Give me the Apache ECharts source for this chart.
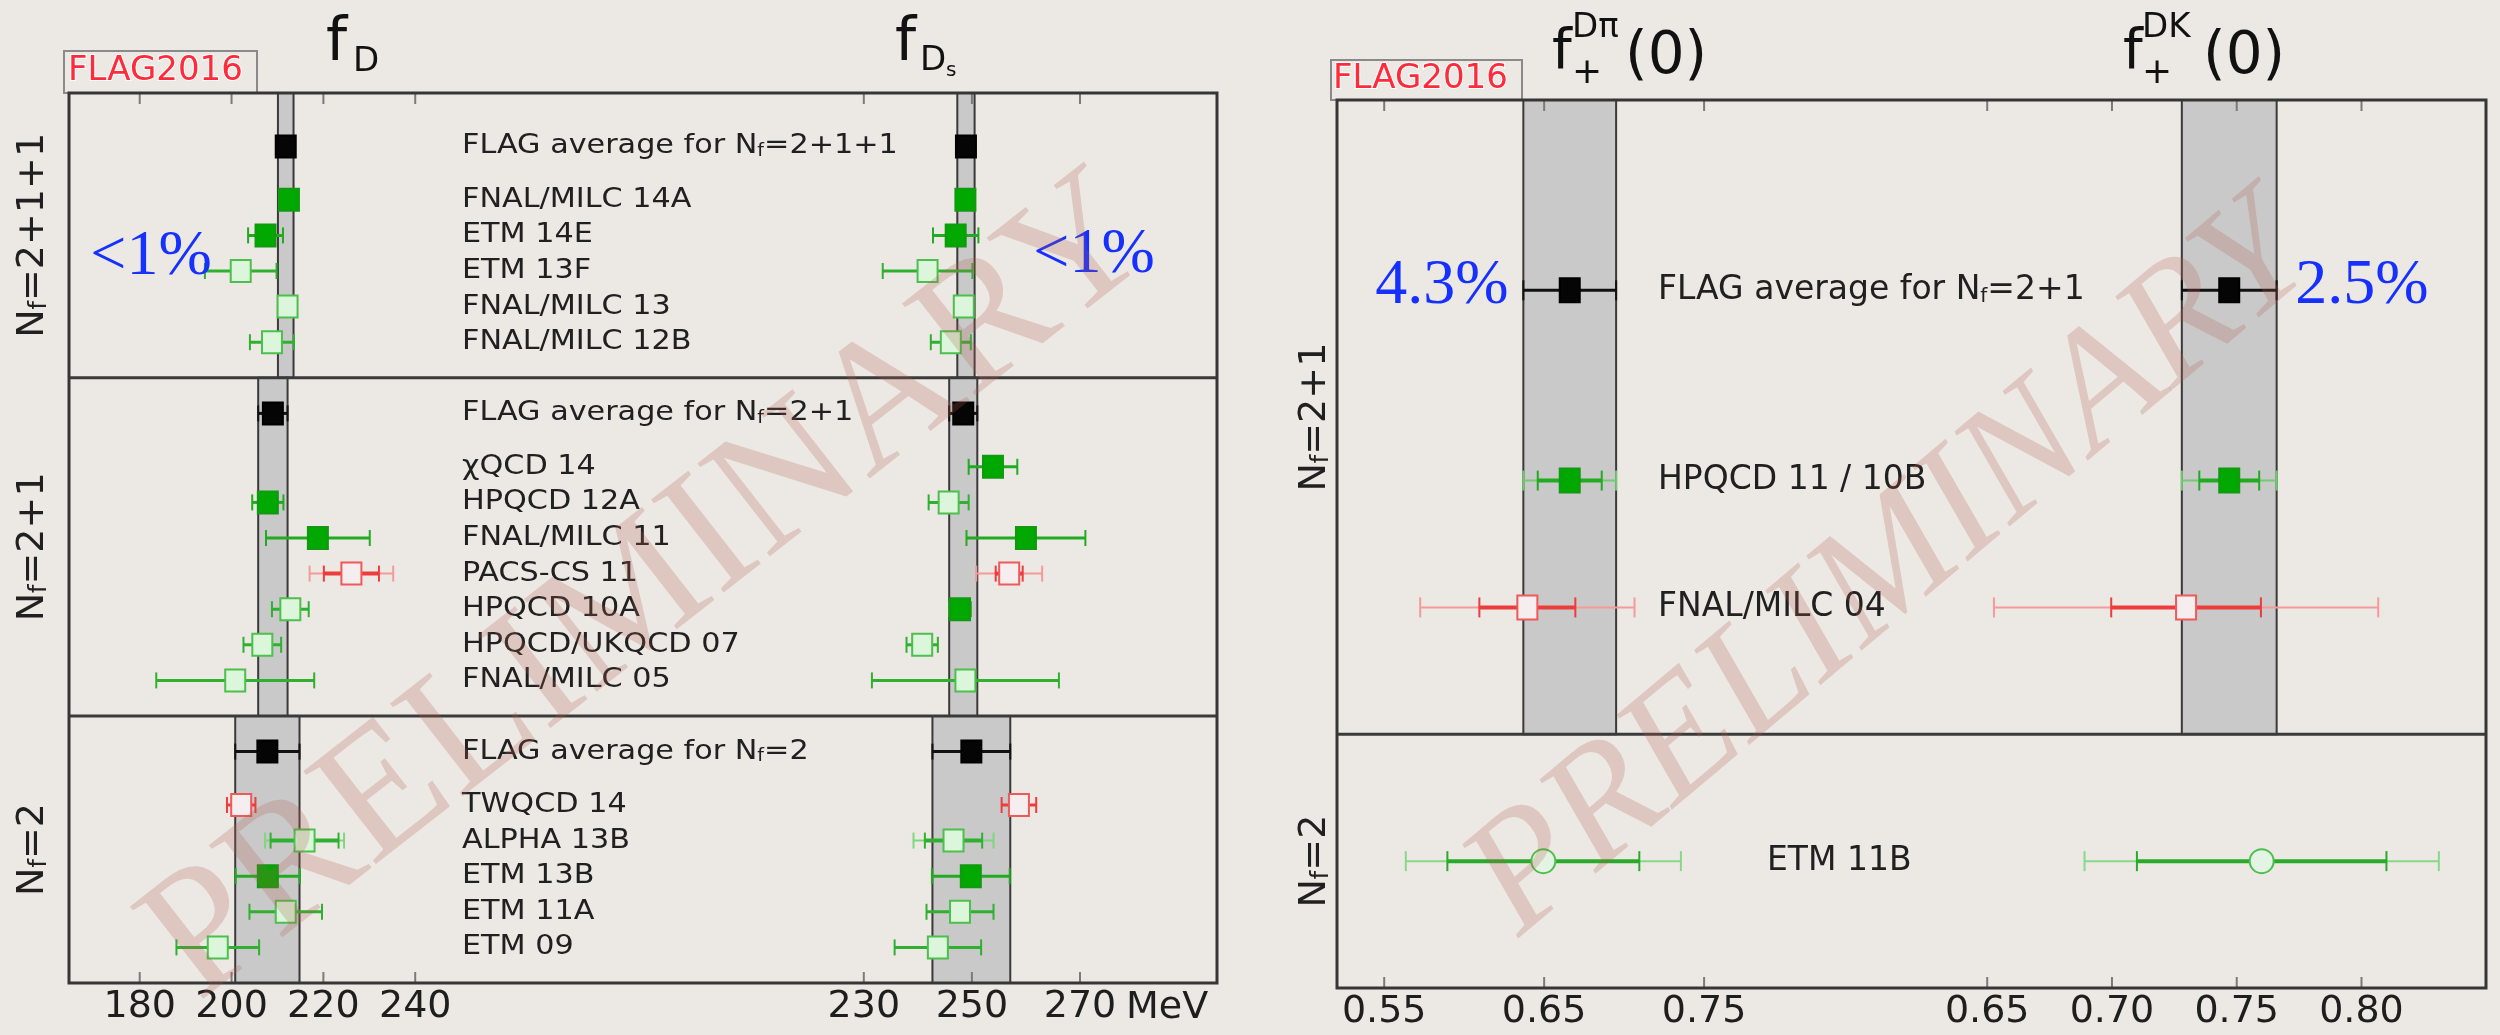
<!DOCTYPE html>
<html>
<head>
<meta charset="utf-8">
<script src="https://cdn.jsdelivr.net/npm/echarts@6/dist/echarts.min.js"></script>
<style>
html, body { margin: 0; padding: 0; background: #ece9e4; }
#chart { width: 2500px; height: 1035px; }
</style>
</head>
<body>
<div id="chart"></div>
<script>
// ---------- data: decay constants (left panel) ----------
var leftSections = ['N_f=2+1+1', 'N_f=2+1', 'N_f=2'];
var leftAvgLabels = ['FLAG average for N_f=2+1+1', 'FLAG average for N_f=2+1', 'FLAG average for N_f=2'];
var leftLabels = [
  ['FNAL/MILC 14A', 'ETM 14E', 'ETM 13F', 'FNAL/MILC 13', 'FNAL/MILC 12B'],
  ['χQCD 14', 'HPQCD 12A', 'FNAL/MILC 11', 'PACS-CS 11', 'HPQCD 10A', 'HPQCD/UKQCD 07', 'FNAL/MILC 05'],
  ['TWQCD 14', 'ALPHA 13B', 'ETM 13B', 'ETM 11A', 'ETM 09']
];
// FLAG averages [value, error]
var fdAvg = [[211.8, 1.7], [209.0, 3.2], [207.8, 7.0]];
var fdsAvg = [[248.9, 1.6], [248.4, 2.6], [249.9, 7.2]];
// results [value, total error, stat error]; null = no result
var fdValues = [
  [[212.5, 1.2], [207.4, 3.8], [202.0, 7.8], [212.2, 1.0], [208.8, 4.8]],
  [null, [207.9, 3.4], [218.8, 11.3], [226.1, 9.1, 6.0], [212.8, 4.0], [206.7, 4.1], [200.8, 17.2]],
  [[202.1, 3.1], [215.9, 8.6, 7.4], [207.9, 7.0], [211.8, 7.9], [197.0, 9.0]]
];
var fdStatus = [
  ['ok', 'ok', 'other', 'other', 'other'],
  [null, 'ok', 'ok', 'fail', 'other', 'other', 'other'],
  ['fail', 'other', 'ok', 'other', 'other']
];
var fdsValues = [
  [[248.8, 1.2], [247.0, 4.2], [241.8, 8.3], [248.5, 1.0], [246.1, 3.7]],
  [[253.9, 4.5], [245.7, 3.7], [260.0, 11.0], [256.9, 6.1, 2.5], [247.8, 2.0], [240.8, 2.9], [248.8, 17.3]],
  [[258.7, 3.2], [246.6, 7.4, 5.3], [249.8, 7.2], [247.8, 6.2], [243.7, 8.0]]
];
var fdsStatus = [
  ['ok', 'ok', 'other', 'other', 'other'],
  ['ok', 'other', 'ok', 'fail', 'ok', 'other', 'other'],
  ['fail', 'other', 'ok', 'other', 'other']
];

// ---------- data: form factors (right panel) ----------
var rightSections = ['N_f=2+1', 'N_f=2'];
var rightAvgLabels = ['FLAG average for N_f=2+1', null];
var rightLabels = [['HPQCD 11 / 10B', 'FNAL/MILC 04'], ['ETM 11B']];
var dpiAvg = [[0.666, 0.029], null];
var dkAvg = [[0.747, 0.019], null];
var dpiValues = [[[0.666, 0.029, 0.020], [0.6395, 0.067, 0.030]], [[0.6495, 0.086, 0.060]]];
var dkValues = [[[0.747, 0.019, 0.012], [0.7297, 0.077, 0.030]], [[0.760, 0.071, 0.050]]];
var dpiStatus = [['ok', 'fail'], ['proc']];
var dkStatus = [['ok', 'fail'], ['proc']];

// tick labels
var fdTicks = [180, 200, 220, 240];
var fdsTicks = [230, 250, 270];
var dpiTicks = [0.55, 0.65, 0.75];
var dkTicks = [0.65, 0.70, 0.75, 0.80];

// ---------- layout ----------
var FONT = 'DejaVu Sans';
var grids = [
  { left: 69, top: 93, width: 571, height: 890 },
  { left: 640, top: 93, width: 577, height: 890 },
  { left: 1337, top: 100, width: 575, height: 888 },
  { left: 1912, top: 100, width: 574, height: 888 }
];
var ranges = [[164.60, 288.95], [188.59, 295.35], [0.52049, 0.87998], [0.61986, 0.8499]];

var MARK = {
  avg:   { fill: '#050505', stroke: '#000000', bar: '#111111', outer: '#111111' },
  ok:    { fill: '#00a800', stroke: '#119911', bar: '#22aa22', outer: '#70cc70' },
  other: { fill: '#dbf6db', stroke: '#4cbf4c', bar: '#30b030', outer: '#80d680' },
  fail:  { fill: '#f6eeee', stroke: '#ee5a5a', bar: '#ee3c3c', outer: '#f59a9a' },
  proc:  { fill: '#e4f4e4', stroke: '#4cbf4c', bar: '#2aaa2a', outer: '#88d888' }
};
var PANEL = {
  left:  { w: 20, h: 22, cap: 16, lw: 3, labelSize: 27, labelScale: 1.12, labelX: [462, 462, 462], secOffset: 36 },
  right: { w: 20, h: 24, cap: 20, lw: 3, labelSize: 33, labelScale: 1.0, labelX: [1658, 1767], secOffset: 22 }
};

function layoutRows(counts, hasAvg) {
  var avgRows = [], entryRows = [], bounds = [0], y = 0;
  counts.forEach(function (n, i) {
    y += i === 0 ? 1.5 : 1;
    if (hasAvg[i]) { avgRows.push(y); y += 1.5; } else avgRows.push(null);
    var rows = [];
    for (var k = 0; k < n; k++) rows.push(y + k);
    entryRows.push(rows);
    y += n;
    bounds.push(y);
  });
  return { avgRows: avgRows, entryRows: entryRows, bounds: bounds, total: y };
}

function richText(s) {
  var i = s.indexOf('N_f');
  if (i < 0) return '{n|' + s + '}';
  return (i > 0 ? '{n|' + s.slice(0, i) + '}' : '') + '{n|N}{s|f}{n|' + s.slice(i + 3) + '}';
}
function richStyle(F) {
  return {
    n: { fontSize: F, fontFamily: FONT, fill: '#202020' },
    s: { fontSize: Math.round(F * 0.62), fontFamily: FONT, fill: '#202020', verticalAlign: 'bottom' }
  };
}

var LL = layoutRows(leftLabels.map(function (a) { return a.length; }), leftAvgLabels.map(Boolean));
var RL = layoutRows(rightLabels.map(function (a) { return a.length; }), rightAvgLabels.map(Boolean));

function makePointRenderer(st, P) {
  return function (params, api) {
    var s = st[params.dataIndex], sty = MARK[s];
    var v = api.value(0), row = api.value(1), eo = api.value(2), ei = api.value(3);
    var c = api.coord([v, row]), cx = c[0], cy = c[1];
    var ch = [];
    function bar(x0, x1, color, lw) {
      ch.push({ type: 'line', shape: { x1: x0, y1: cy, x2: x1, y2: cy }, style: { stroke: color, lineWidth: lw } });
      ch.push({ type: 'line', shape: { x1: x0, y1: cy - P.cap / 2, x2: x0, y2: cy + P.cap / 2 }, style: { stroke: color, lineWidth: 2 } });
      ch.push({ type: 'line', shape: { x1: x1, y1: cy - P.cap / 2, x2: x1, y2: cy + P.cap / 2 }, style: { stroke: color, lineWidth: 2 } });
    }
    bar(api.coord([v - eo, row])[0], api.coord([v + eo, row])[0], ei ? sty.outer : sty.bar, ei ? P.lw - 1 : P.lw);
    if (ei) bar(api.coord([v - ei, row])[0], api.coord([v + ei, row])[0], sty.bar, P.lw + 1);
    if (s === 'proc') {
      ch.push({ type: 'circle', shape: { cx: cx, cy: cy, r: P.h / 2 }, style: { fill: sty.fill, stroke: sty.stroke, lineWidth: 2 } });
    } else {
      ch.push({ type: 'rect', shape: { x: cx - P.w / 2, y: cy - P.h / 2, width: P.w, height: P.h }, style: { fill: sty.fill, stroke: sty.stroke, lineWidth: 2 } });
    }
    return { type: 'group', children: ch };
  };
}

function buildColumn(gi, L, avg, values, status, ticks, P) {
  var x0 = ranges[gi][0];
  var out = [];
  var bandData = [];
  avg.forEach(function (a, i) {
    if (a) bandData.push([a[0] - a[1], a[0] + a[1], L.bounds[i], L.bounds[i + 1]]);
  });
  out.push({
    type: 'custom', xAxisIndex: gi, yAxisIndex: gi, z: 1, clip: false, silent: true,
    encode: { x: [0, 1], y: [2, 3] }, data: bandData,
    renderItem: function (p, api) {
      var a = api.coord([api.value(0), api.value(2)]);
      var b = api.coord([api.value(1), api.value(3)]);
      return { type: 'rect', shape: { x: a[0], y: a[1], width: b[0] - a[0], height: b[1] - a[1] },
        style: { fill: '#c9c9c9', stroke: '#3a3a3a', lineWidth: 2 } };
    }
  });
  // section dividers
  out.push({
    type: 'custom', xAxisIndex: gi, yAxisIndex: gi, z: 4, clip: false, silent: true,
    data: L.bounds.slice(1, -1).map(function (b) { return [x0, b]; }),
    renderItem: function (p, api) {
      var y = api.coord([x0, api.value(1)])[1];
      return { type: 'line', shape: { x1: p.coordSys.x, y1: y, x2: p.coordSys.x + p.coordSys.width, y2: y },
        style: { stroke: '#3a3a3a', lineWidth: 3 } };
    }
  });
  // inward ticks on top and bottom frame
  out.push({
    type: 'custom', xAxisIndex: gi, yAxisIndex: gi, z: 2, clip: false, silent: true,
    data: ticks.map(function (t) { return [t, 0]; }),
    renderItem: function (p, api) {
      var x = api.coord([api.value(0), 0])[0], cs = p.coordSys;
      var sty = { stroke: '#7a7a7a', lineWidth: 2 };
      return { type: 'group', children: [
        { type: 'line', shape: { x1: x, y1: cs.y, x2: x, y2: cs.y + 11 }, style: sty },
        { type: 'line', shape: { x1: x, y1: cs.y + cs.height, x2: x, y2: cs.y + cs.height - 11 }, style: sty }
      ] };
    }
  });
  var pts = [], st = [];
  avg.forEach(function (a, i) {
    if (a) { pts.push([a[0], L.avgRows[i], a[1], 0]); st.push('avg'); }
  });
  values.forEach(function (sec, i) {
    sec.forEach(function (v, k) {
      if (v) { pts.push([v[0], L.entryRows[i][k], v[1], v[2] || 0]); st.push(status[i][k]); }
    });
  });
  out.push({ type: 'custom', xAxisIndex: gi, yAxisIndex: gi, z: 3, clip: false, silent: true,
    data: pts, renderItem: makePointRenderer(st, P) });
  return out;
}

function buildLabels(gi, L, avgLabels, labels, sections, P) {
  var x0 = ranges[gi][0];
  var data = [], texts = [], sec = [];
  avgLabels.forEach(function (t, i) { if (t) { data.push([x0, L.avgRows[i]]); texts.push(t); sec.push(i); } });
  labels.forEach(function (s, i) {
    s.forEach(function (t, k) { data.push([x0, L.entryRows[i][k]]); texts.push(t); sec.push(i); });
  });
  var rich = richStyle(P.labelSize);
  var secData = sections.map(function (s, i) { return [x0, (L.bounds[i] + L.bounds[i + 1]) / 2]; });
  var secRich = richStyle(38);
  return [{
    type: 'custom', xAxisIndex: gi, yAxisIndex: gi, z: 5, clip: false, silent: true, data: data,
    renderItem: function (p, api) {
      var y = api.coord([x0, api.value(1)])[1];
      return { type: 'text', x: P.labelX[sec[p.dataIndex]], y: y, scaleX: P.labelScale,
        style: { text: richText(texts[p.dataIndex]), rich: rich, align: 'left', verticalAlign: 'middle' } };
    }
  }, {
    type: 'custom', xAxisIndex: gi, yAxisIndex: gi, z: 5, clip: false, silent: true, data: secData,
    renderItem: function (p, api) {
      var y = api.coord([x0, api.value(1)])[1];
      return { type: 'text', x: p.coordSys.x - P.secOffset, y: y, rotation: Math.PI / 2,
        style: { text: richText(sections[p.dataIndex]), rich: secRich, align: 'center', verticalAlign: 'middle' } };
    }
  }];
}

function xAxis(gi, ticks, fmt) {
  return { type: 'value', gridIndex: gi, min: ranges[gi][0], max: ranges[gi][1], position: 'bottom',
    splitLine: { show: false }, axisLine: { show: false }, axisTick: { show: false },
    axisLabel: { show: true, customValues: ticks, formatter: fmt, margin: 5, color: '#1e1e1e', fontFamily: FONT, fontSize: 38 } };
}

var intFmt = function (v) { return String(Math.round(v)); };
var decFmt = function (v) { return v.toFixed(2); };

var series = [].concat(
  buildColumn(0, LL, fdAvg, fdValues, fdStatus, fdTicks, PANEL.left),
  buildColumn(1, LL, fdsAvg, fdsValues, fdsStatus, fdsTicks, PANEL.left),
  buildColumn(2, RL, dpiAvg, dpiValues, dpiStatus, dpiTicks, PANEL.right),
  buildColumn(3, RL, dkAvg, dkValues, dkStatus, dkTicks, PANEL.right),
  buildLabels(0, LL, leftAvgLabels, leftLabels, leftSections, PANEL.left),
  buildLabels(2, RL, rightAvgLabels, rightLabels, rightSections, PANEL.right)
);

function txt(x, y, text, size, extra) {
  return Object.assign({ type: 'text', x: x, y: y, z: 20,
    style: Object.assign({ text: text, fontSize: size, fontFamily: FONT, fill: '#111', align: 'left', verticalAlign: 'middle' },
      extra || {}) });
}
function frame(a, b) {
  return { type: 'rect', z: 15, silent: true,
    shape: { x: grids[a].left, y: grids[a].top, width: grids[b].left + grids[b].width - grids[a].left, height: grids[a].height },
    style: { fill: 'none', stroke: '#363636', lineWidth: 3 } };
}
var blue = { fontFamily: 'Liberation Serif', fill: '#1530ff', align: 'center' };
var wm = { fontFamily: 'Liberation Serif', fill: 'rgba(176, 92, 80, 0.24)', align: 'center' };

var graphic = [
  frame(0, 1), frame(2, 3),
  // FLAG2016 badges
  { type: 'rect', z: 14, shape: { x: 64, y: 51, width: 193, height: 42 }, style: { fill: 'none', stroke: '#8a8a8a', lineWidth: 2 } },
  txt(68, 71, 'FLAG2016', 34, { fill: '#ff2a3a', stroke: '#ffffff', lineWidth: 2 }),
  { type: 'rect', z: 14, shape: { x: 1331, y: 60, width: 191, height: 40 }, style: { fill: 'none', stroke: '#8a8a8a', lineWidth: 2 } },
  txt(1333, 79, 'FLAG2016', 34, { fill: '#ff2a3a', stroke: '#ffffff', lineWidth: 2 }),
  // column titles
  txt(326, 44, 'f', 60), txt(353, 62, 'D', 34),
  txt(895, 44, 'f', 60), txt(920, 61, 'D', 34), txt(946, 71, 's', 20),
  txt(1552, 53, 'f', 56), txt(1572, 74, '+', 36), txt(1572, 28, 'Dπ', 34), txt(1625, 58, '(0)', 58),
  txt(2123, 53, 'f', 56), txt(2142, 74, '+', 36), txt(2142, 28, 'DK', 34), txt(2203, 58, '(0)', 58),
  // unit
  txt(1126, 1008, 'MeV', 38, { fill: '#1e1e1e' }),
  // precision annotations
  txt(151, 257, '<1%', 64, blue), txt(1094, 255, '<1%', 64, blue),
  txt(1442, 286, '4.3%', 64, blue), txt(2362, 286, '2.5%', 64, blue),
  // watermarks
  { type: 'text', z: 30, silent: true, x: 650, y: 590, rotation: 38 * Math.PI / 180,
    style: Object.assign({ text: 'PRELIMINARY', fontSize: 180, verticalAlign: 'middle' }, wm) },
  { type: 'text', z: 30, silent: true, x: 1890, y: 570, rotation: 40 * Math.PI / 180,
    style: Object.assign({ text: 'PRELIMINARY', fontSize: 165, fontStyle: 'italic', verticalAlign: 'middle' }, wm) }
];

var chart = echarts.init(document.getElementById('chart'));
chart.setOption({
  backgroundColor: '#ece9e4',
  animation: false,
  grid: grids,
  xAxis: [xAxis(0, fdTicks, intFmt), xAxis(1, fdsTicks, intFmt), xAxis(2, dpiTicks, decFmt), xAxis(3, dkTicks, decFmt)],
  yAxis: [0, 1, 2, 3].map(function (gi) {
    return { type: 'value', gridIndex: gi, inverse: true, min: 0, max: gi < 2 ? LL.total : RL.total, show: false };
  }),
  series: series,
  graphic: graphic
});
</script>
</body>
</html>
